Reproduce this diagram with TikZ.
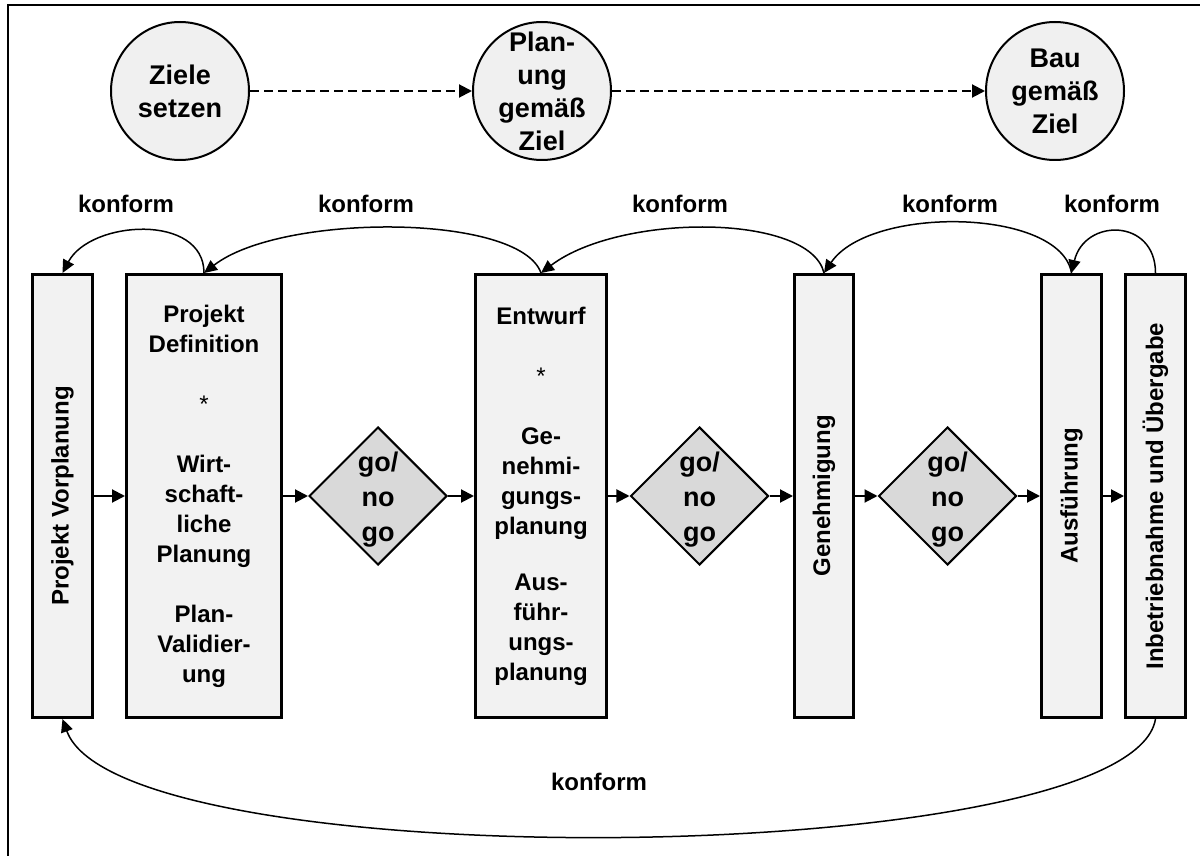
\documentclass[tikz,border=0pt]{standalone}
\usepackage{fontspec}
\setmainfont{Liberation Sans}
\usetikzlibrary{shapes.geometric, arrows.meta}
\definecolor{stagefill}{HTML}{F2F2F2}
\definecolor{gatefill}{HTML}{D9D9D9}
\definecolor{goalfill}{HTML}{F0F0F0}

\begin{document}
\begin{tikzpicture}[
        x=0.5pt, y=-0.5pt,
        goal/.style = {draw, circle, fill=goalfill, line width=1pt, minimum size=69pt, inner sep=0pt},
        goaltext/.style = {align=center, font=\fontsize{13.5}{16.5}\selectfont\bfseries},
        stage/.style = {draw, rectangle, fill=stagefill, line width=1.5pt, minimum height=221.5pt, inner sep=0pt, font=\fontsize{12}{15}\selectfont\bfseries, align=center},
        gate/.style = {draw, diamond, aspect=1, fill=gatefill, line width=1pt, minimum width=69pt, minimum height=69pt, inner sep=0pt},
        gatetext/.style = {align=center, yshift=-2pt, font=\fontsize{13.5}{17.5}\selectfont\bfseries},
        konf/.style = {font=\fontsize{12}{15}\selectfont\bfseries},
        flow/.style = {-{Triangle[length=6.5pt, width=6.5pt]}, line width=1pt},
        plan/.style = {flow, dash pattern=on 4.5pt off 2.5pt},
        back/.style = {-{Triangle[length=6.5pt, width=6pt]}, line width=0.75pt}
    ]
        \useasboundingbox (0,0) rectangle (1200,856);

        % Rahmen
        \draw[line width=1pt] (8,856) -- (8,5) -- (1200,5);

        % Ziele
        \node[goal, label={[goaltext]center:{Ziele\\setzen}}] (ziele) at (180,91) {};
        \node[goal, label={[goaltext]center:{Plan-\\ung\\gemäß\\Ziel}}] (planung) at (542,91) {};
        \node[goal, label={[goaltext]center:{Bau\\gemäß\\Ziel}}] (bau) at (1055,91) {};

        \draw[plan] (ziele) -- (planung);
        \draw[plan] (planung) -- (bau);

        % Phasen
        \node[stage, minimum width=30pt] (vorplanung) at (62.5,496) {\rotatebox{90}{Projekt Vorplanung}};
        \node[stage, minimum width=77.5pt] (definition) at (204,496) {Projekt\\Definition\\[15pt]\textmd{*}\\[15pt]Wirt-\\schaft-\\liche\\Planung\\[15pt]Plan-\\Validier-\\ung};
        \node[gate, label={[gatetext]center:{go/\\no\\go}}] (gate1) at (378,496) {};
        \node[stage, minimum width=65.5pt] (entwurf) at (541,496) {Entwurf\\[15pt]\textmd{*}\\[15pt]Ge-\\nehmi-\\gungs-\\planung\\[13pt]Aus-\\führ-\\ungs-\\planung};
        \node[gate, label={[gatetext]center:{go/\\no\\go}}] (gate2) at (699.5,496) {};
        \node[stage, minimum width=29.5pt] (genehmigung) at (824,496) {\rotatebox{90}{Genehmigung}};
        \node[gate, label={[gatetext]center:{go/\\no\\go}}] (gate3) at (947.5,496) {};
        \node[stage, minimum width=30pt] (ausfuehrung) at (1071.5,496) {\rotatebox{90}{Ausführung}};
        \node[stage, minimum width=30pt] (uebergabe) at (1155.5,496) {\rotatebox{90}{Inbetriebnahme und Übergabe}};

        % Ablauf
        \draw[flow] (vorplanung) -- (definition);
        \draw[flow] (definition) -- (gate1);
        \draw[flow] (gate1) -- (entwurf);
        \draw[flow] (entwurf) -- (gate2);
        \draw[flow] (gate2) -- (genehmigung);
        \draw[flow] (genehmigung) -- (gate3);
        \draw[flow] (gate3) -- (ausfuehrung);
        \draw[flow] (ausfuehrung) -- (uebergabe);

        % Rueckkopplung
        \draw[back] (definition.north) .. controls +(0,-60) and +(28,-53) .. (vorplanung.north);
        \draw[back] (entwurf.north) .. controls +(-21,-60) and +(77,-60) .. (definition.north);
        \draw[back] (genehmigung.north) .. controls +(-14,-60) and +(79,-60) .. (entwurf.north);
        \draw[back] (ausfuehrung.north) .. controls +(-11,-65) and +(46,-68) .. (genehmigung.north);
        \draw[back] (uebergabe.north) .. controls +(0,-55) and +(13,-55) .. (ausfuehrung.north);
        \draw[back] (uebergabe.south) .. controls +(-25,151) and +(58,161) .. (vorplanung.south);

        \node[konf] (konf1) at (126,204) {konform};
        \node[konf] (konf2) at (366,204) {konform};
        \node[konf] (konf3) at (680,204) {konform};
        \node[konf] (konf4) at (950,204) {konform};
        \node[konf] (konf5) at (1112,204) {konform};
        \node[konf] (konf6) at (599,782) {konform};

    \end{tikzpicture}
\end{document}
